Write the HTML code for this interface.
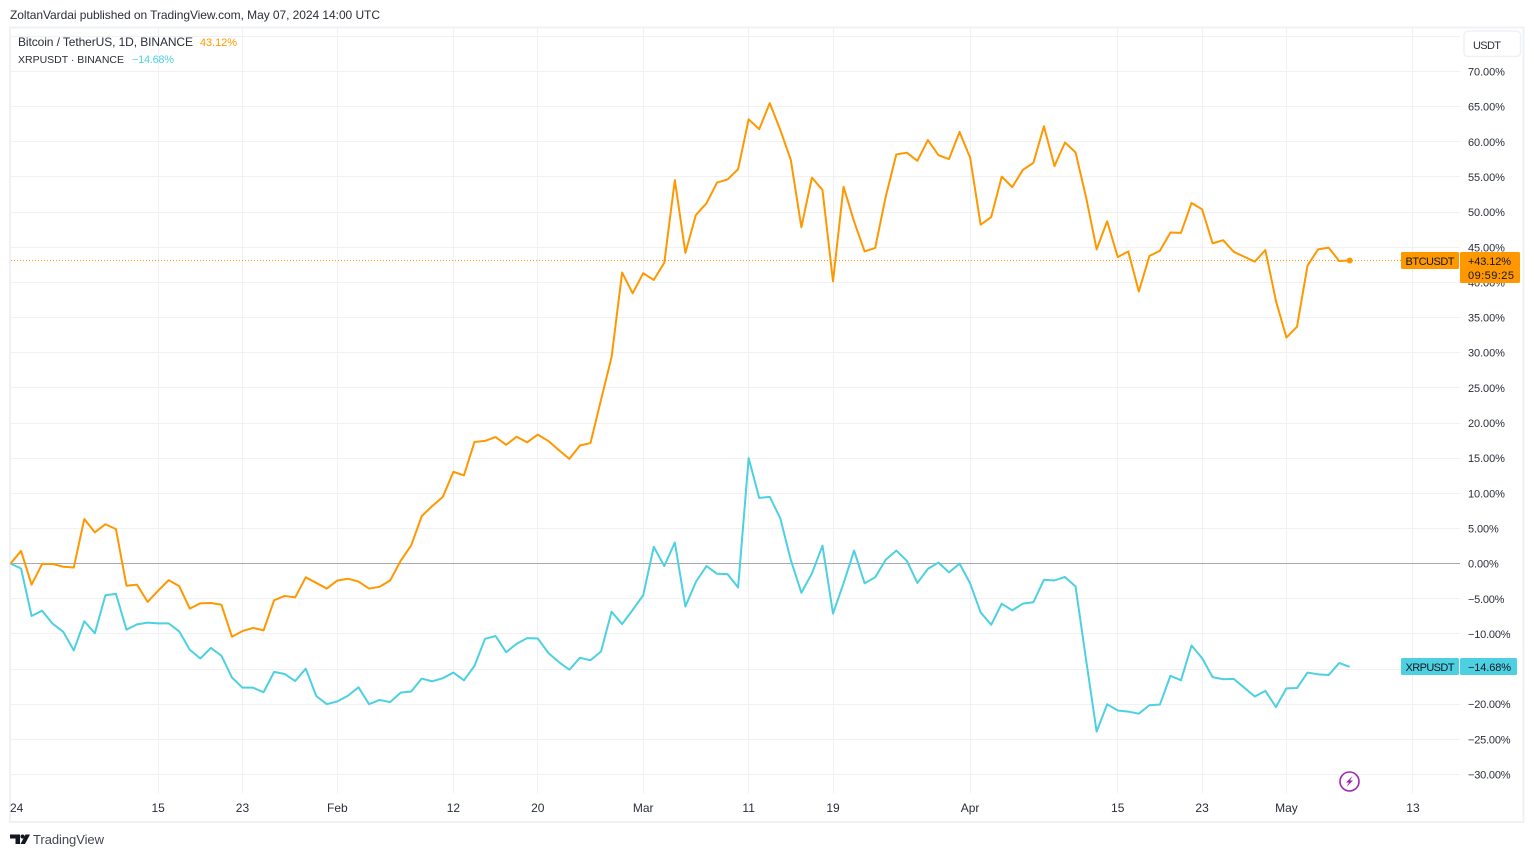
<!DOCTYPE html>
<html lang="en">
<head>
<meta charset="utf-8">
<title>BTCUSDT vs XRPUSDT</title>
<style>
html,body{margin:0;padding:0;background:#fff;}
body{width:1534px;height:857px;overflow:hidden;}
svg{display:block;font-family:"Liberation Sans",sans-serif;font-size:12px;}
text{fill:#2a2e39;}
</style>
</head>
<body>
<svg id="chart" width="1534" height="857" viewBox="0 0 1534 857" xmlns="http://www.w3.org/2000/svg">
  <text x="10" y="19" textLength="370" lengthAdjust="spacing">ZoltanVardai published on TradingView.com, May 07, 2024 14:00 UTC</text>

  <rect x="10" y="27.5" width="1513.5" height="794.5" fill="#fff" stroke="#eff1f6" stroke-width="2"/>

  <g id="grid"></g>
  <g id="plot"></g>
  <g id="axis-y"></g>
  <g id="axis-x"></g>
  <g id="tags"></g>

  <g>
    <text x="18" y="46" textLength="175" lengthAdjust="spacing">Bitcoin / TetherUS, 1D, BINANCE</text>
    <text x="200" y="46" textLength="37" lengthAdjust="spacing" style="fill:#ff9800;font-size:11px">43.12%</text>
    <text x="18" y="63" textLength="106" lengthAdjust="spacing" style="font-size:10.5px">XRPUSDT · BINANCE</text>
    <text x="132" y="63" textLength="42" lengthAdjust="spacing" style="fill:#4dd0e1;font-size:11px">−14.68%</text>
  </g>

  <g>
    <rect x="1464" y="31" width="56.5" height="25.5" rx="4" fill="#fff" stroke="#eff1f6" stroke-width="1.5"/>
    <text x="1473" y="49" textLength="28" lengthAdjust="spacing" style="font-size:11px">USDT</text>
  </g>

  <g>
    <circle cx="1349.5" cy="781.5" r="9.5" fill="#fff" stroke="#9c27b0" stroke-width="1.6"/>
    <polygon points="1352.5,776 1346,782.5 1349,782.5 1346.5,787 1353,780.5 1350,780.5" fill="#9c27b0"/>
  </g>

  <g>
    <polygon points="10,834.5 20,834.5 20,844 15.5,844 15.5,838.5 10,838.5" fill="#131722"/>
    <circle cx="22.5" cy="836.5" r="2" fill="#131722"/>
    <polygon points="25.5,834.5 30,834.5 25,844 20.5,844" fill="#131722"/>
    <text x="33" y="844" textLength="71" lengthAdjust="spacing" style="font-size:13px;fill:#434651">TradingView</text>
  </g>
</svg>

<script>
var btcValues = [0,1.8,-3.0,-0.05,-0.05,-0.45,-0.55,6.35,4.45,5.6,4.9,-3.15,-3.0,-5.45,-3.85,-2.35,-3.2,-6.4,-5.65,-5.6,-5.85,-10.4,-9.6,-9.15,-9.5,-5.2,-4.6,-4.8,-1.95,-2.75,-3.55,-2.4,-2.15,-2.55,-3.55,-3.3,-2.4,0.4,2.6,6.75,8.2,9.5,13.05,12.55,17.3,17.45,18.0,16.9,18.05,17.25,18.35,17.45,16.15,14.9,16.8,17.15,23.3,29.35,41.4,38.45,41.3,40.35,42.8,54.55,44.2,49.6,51.25,54.2,54.65,56.1,63.2,61.8,65.5,61.7,57.4,47.85,54.9,53.15,40.15,53.6,48.65,44.4,44.9,52.2,58.2,58.45,57.3,60.25,58.1,57.55,61.4,57.75,48.2,49.3,55.05,53.55,56.0,57.0,62.2,56.55,59.9,58.5,52.1,44.7,48.7,43.6,44.4,38.7,43.75,44.5,47.1,47.05,51.3,50.4,45.55,46.0,44.35,43.65,42.95,44.6,37.4,32.15,33.7,42.4,44.7,44.95,43.05,43.12];
var xrpValues = [0,-0.7,-7.45,-6.7,-8.55,-9.7,-12.35,-8.2,-9.9,-4.5,-4.3,-9.4,-8.65,-8.4,-8.5,-8.5,-9.65,-12.25,-13.5,-12.0,-13.1,-16.2,-17.65,-17.65,-18.3,-15.4,-15.7,-16.7,-14.95,-18.85,-20.0,-19.6,-18.8,-17.6,-20.0,-19.4,-19.7,-18.35,-18.2,-16.35,-16.75,-16.3,-15.5,-16.6,-14.55,-10.7,-10.3,-12.6,-11.4,-10.6,-10.65,-12.7,-14.0,-15.1,-13.4,-13.75,-12.5,-6.85,-8.6,-6.6,-4.5,2.4,-0.35,3.0,-6.1,-2.6,-0.35,-1.45,-1.5,-3.4,15.0,9.35,9.5,6.45,0.5,-4.15,-1.4,2.55,-7.1,-2.8,1.85,-2.8,-1.95,0.55,1.85,0.4,-2.75,-0.75,0.15,-1.25,0,-2.8,-6.95,-8.7,-5.7,-6.65,-5.7,-5.5,-2.3,-2.4,-1.9,-3.25,-13.7,-23.9,-20.0,-20.9,-21.05,-21.35,-20.15,-20.05,-15.95,-16.6,-11.65,-13.45,-16.15,-16.45,-16.4,-17.65,-18.9,-18.1,-20.4,-17.75,-17.7,-15.5,-15.75,-15.85,-14.15,-14.68];
var timeTickDays = [0,14,22,31,42,50,60,70,78,91,105,113,121,133];
var timeTickLabels = ['24','15','23','Feb','12','20','Mar','11','19','Apr','15','23','May','13'];
var percentTicks = [70,65,60,55,50,45,40,35,30,25,20,15,10,5,0,-5,-10,-15,-20,-25,-30];
var gridOnlyPercents = [75];
var btcLast = 43.12;
var xrpLast = -14.68;
var btcCountdown = '09:59:25';

var NS = 'http://www.w3.org/2000/svg';
function xScale(day){ return 10.5 + 10.545 * day; }
function yScale(pct){ return 563.6 - 7.03 * pct; }
function crisp(v){ return Math.floor(v) + 0.5; }
function make(tag, parentId, attrs){
  var el = document.createElementNS(NS, tag);
  for (var k in attrs) el.setAttribute(k, attrs[k]);
  document.getElementById(parentId).appendChild(el);
  return el;
}
function fmtPct(v){ return (v < 0 ? '\u2212' : '') + Math.abs(v).toFixed(2) + '%'; }
function fmtSigned(v){ return (v < 0 ? '\u2212' : '+') + Math.abs(v).toFixed(2) + '%'; }

var plotRight = 1460, plotTop = 28, plotBottom = 793, plotLeft = 11;

percentTicks.concat(gridOnlyPercents).forEach(function(p){
  var y = crisp(yScale(p));
  var line = make('line', 'grid', {x1: plotLeft, x2: plotRight, y1: y, y2: y, stroke: '#f1f1f4', 'stroke-width': 1});
  
  
});
timeTickDays.forEach(function(d){
  if (d === 0) return;
  var x = crisp(xScale(d));
  var line = make('line', 'grid', {x1: x, x2: x, y1: plotTop, y2: plotBottom, stroke: '#f0f0f3', 'stroke-width': 1});
  
  
});

var zeroY = crisp(yScale(0));
var zeroLine = make('line', 'plot', {x1: plotLeft, x2: plotRight, y1: zeroY, y2: zeroY, stroke: '#a9a8b0', 'stroke-width': 1});



var lastY = crisp(yScale(btcLast));
var priceLine = make('line', 'plot', {x1: plotLeft, x2: plotRight, y1: lastY, y2: lastY, stroke: '#ff9800', 'stroke-width': 1, 'stroke-dasharray': '1 2'});



function linePoints(values){
  return values.map(function(v, i){ return xScale(i).toFixed(2) + ',' + yScale(v).toFixed(2); }).join(' ');
}
var xrpLine = make('polyline', 'plot', {points: linePoints(xrpValues), fill: 'none', stroke: '#4dd0e1', 'stroke-width': 2, 'stroke-linejoin': 'round'});


var btcLine = make('polyline', 'plot', {points: linePoints(btcValues), fill: 'none', stroke: '#ff9800', 'stroke-width': 2, 'stroke-linejoin': 'round'});


var btcDot = make('circle', 'plot', {cx: xScale(btcValues.length - 1), cy: yScale(btcLast), r: 3, fill: '#ff9800'});



percentTicks.forEach(function(p){
  var t = make('text', 'axis-y', {x: 1468, y: yScale(p) + 4});
  t.textContent = fmtPct(p);
  t.style.fontSize = '11px';
  t.setAttribute('textLength', fmtPct(p).length * 6.15 + (p < 0 ? -0.5 : 0));
  t.setAttribute('lengthAdjust', 'spacing');
  
  
});
timeTickDays.forEach(function(d, i){
  var t = make('text', 'axis-x', {x: d === 0 ? 10 : xScale(d), y: 812, 'text-anchor': d === 0 ? 'start' : 'middle'});
  t.textContent = timeTickLabels[i];
  
  
});

function tag(name, x, y, w, h, fill, lines, textX, textWidths){
  var r = make('rect', 'tags', {x: x, y: y, width: w, height: h, rx: 1.5, fill: fill});
  
  
  lines.forEach(function(s, i){
    var t = make('text', 'tags', {x: textX, y: y + 13 + i * 14, textLength: textWidths[i], lengthAdjust: 'spacing'});
    t.textContent = s;
    t.style.fill = '#131722';
    t.style.fontSize = '11px';
    
    
  });
}
var btcTop = crisp(yScale(btcLast)) - 8.5;
var xrpTop = crisp(yScale(xrpLast)) - 8.5;
tag('btc-symbol-tag', 1401, btcTop, 58, 17, '#ff9800', ['BTCUSDT'], 1405.5, [49]);
tag('btc-value-tag', 1460, btcTop, 60, 31, '#ff9800', [fmtSigned(btcLast), btcCountdown], 1468, [43, 46]);
tag('xrp-symbol-tag', 1401, xrpTop, 58, 17, '#4dd0e1', ['XRPUSDT'], 1405.5, [49]);
tag('xrp-value-tag', 1460, xrpTop, 57, 17, '#4dd0e1', [fmtSigned(xrpLast)], 1468, [43]);
</script>
</body>
</html>
